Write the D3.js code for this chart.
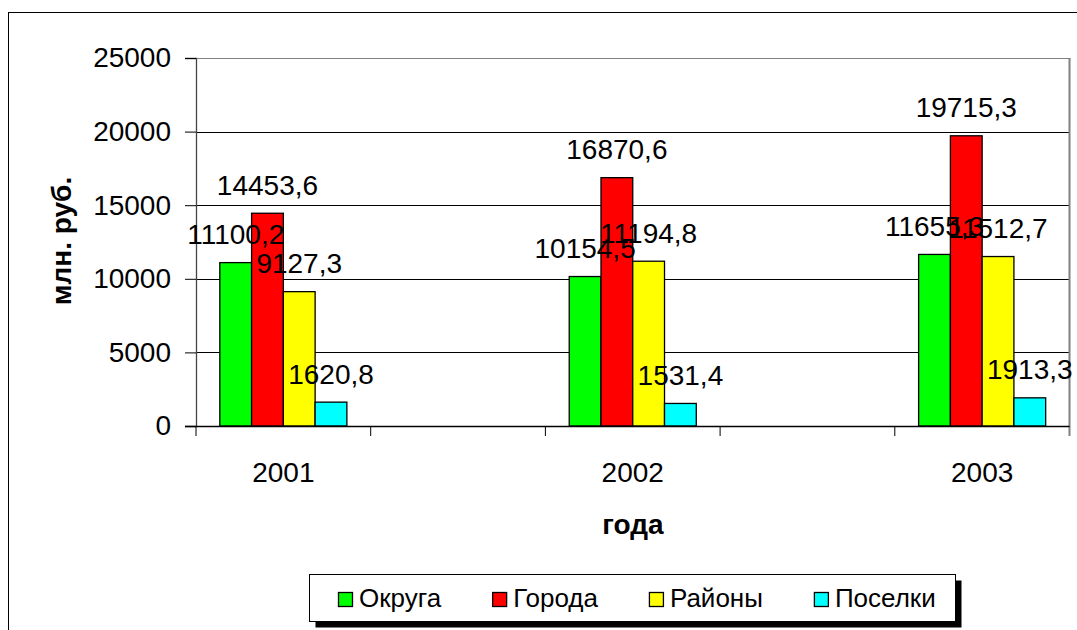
<!DOCTYPE html>
<html>
<head>
<meta charset="utf-8">
<script src="https://cdn.jsdelivr.net/npm/d3@7"></script>
<style>
  html, body { margin: 0; padding: 0; background: #fff; }
  svg { display: block; font-family: "Liberation Sans", Arial, sans-serif; }
</style>
</head>
<body>
<svg id="chart" width="1077" height="630"></svg>
<script>
// ---- data ----
const categories = ["2001", "", "2002", "", "2003"];
const seriesNames = ["Округа", "Города", "Районы", "Поселки"];
const okruga  = [11100.2, null, 10154.5, null, 11655.3];
const goroda  = [14453.6, null, 16870.6, null, 19715.3];
const rayony  = [9127.3,  null, 11194.8, null, 11512.7];
const poselki = [1620.8,  null, 1531.4,  null, 1913.3];
const yTicks = [0, 5000, 10000, 15000, 20000, 25000];
const yTitle = "млн. руб.";
const xTitle = "года";

const seriesValues = [okruga, goroda, rayony, poselki];
const colors = ["#00FF00", "#FF0000", "#FFFF00", "#00FFFF"];

const svg = d3.select("#chart");
const W = 1077, H = 630;
const plot = { left: 196, top: 58, right: 1069.5, bottom: 426 };

svg.append("rect").attr("width", W).attr("height", H).attr("fill", "#fff");

// outer chart border (extends beyond the visible frame)
svg.append("rect").attr("x", 8.5).attr("y", 12.5).attr("width", 1200).attr("height", 800)
  .attr("fill", "none").attr("stroke", "#000").attr("stroke-width", 1);

const y = d3.scaleLinear().domain([0, 25000]).range([plot.bottom, plot.top]);
const x = d3.scaleBand().domain(d3.range(categories.length)).range([plot.left, plot.right]).paddingInner(0).paddingOuter(0);
const bw = x.bandwidth();
const barW = bw / (seriesNames.length + 1.5);
const sub = d3.scaleBand().domain(d3.range(seriesNames.length))
  .range([0.75 * barW, 0.75 * barW + barW * seriesNames.length]);

// gridlines
svg.append("g").selectAll("line").data(yTicks.filter(t => t > 0 && t < 25000)).join("line")
  .attr("x1", plot.left).attr("x2", plot.right)
  .attr("y1", d => Math.round(y(d)) + 0.5).attr("y2", d => Math.round(y(d)) + 0.5)
  .attr("stroke", "#000").attr("stroke-width", 1);

// plot area border (gray)
svg.append("line").attr("x1", plot.left).attr("x2", plot.right + 1)
  .attr("y1", plot.top + 0.5).attr("y2", plot.top + 0.5).attr("stroke", "#808080");
svg.append("line").attr("x1", plot.right).attr("x2", plot.right)
  .attr("y1", plot.top).attr("y2", plot.bottom + 10).attr("stroke", "#808080").attr("stroke-width", 2);

// bars
const gBars = svg.append("g");
seriesValues.forEach((vals, si) => {
  gBars.append("g").selectAll("rect")
    .data(vals.map((v, i) => ({ v, i })).filter(d => d.v != null)).join("rect")
    .attr("x", d => x(d.i) + sub(si))
    .attr("y", d => y(d.v))
    .attr("width", sub.bandwidth())
    .attr("height", d => y(0) - y(d.v))
    .attr("fill", colors[si]).attr("stroke", "#000").attr("stroke-width", 1.3);
});

// y axis
const yAxis = svg.append("g").attr("transform", `translate(${plot.left},0)`)
  .call(d3.axisLeft(y).tickValues(yTicks).tickSize(11).tickPadding(14).tickFormat(d3.format("d")));
yAxis.select(".domain").attr("stroke", "#444").attr("stroke-width", 1.3);
yAxis.selectAll(".tick line").attr("stroke", "#000");
yAxis.selectAll(".tick text").attr("font-size", 28).attr("fill", "#000")
  .attr("font-family", "'Liberation Sans', Arial, sans-serif");

// x axis
const xAxis = svg.append("g").attr("transform", `translate(0,${plot.bottom})`)
  .call(d3.axisBottom(x).tickSize(0).tickPadding(0).tickFormat(i => categories[i]));
xAxis.select(".domain").remove();
xAxis.selectAll(".tick text").attr("font-size", 28).attr("fill", "#000")
  .attr("dy", null).attr("y", 55.5)
  .attr("font-family", "'Liberation Sans', Arial, sans-serif");
svg.append("line").attr("x1", plot.left - 11).attr("x2", plot.right)
  .attr("y1", plot.bottom + 0.5).attr("y2", plot.bottom + 0.5).attr("stroke", "#000").attr("stroke-width", 1.3);
const bounds = d3.range(categories.length).map(i => x(i));
svg.append("g").selectAll("line").data(bounds).join("line")
  .attr("x1", d => d).attr("x2", d => d)
  .attr("y1", plot.bottom).attr("y2", plot.bottom + 10)
  .attr("stroke", "#000").attr("stroke-width", 1);

// data labels
const fmt = v => v.toFixed(1).replace(".", ",");
const gLab = svg.append("g");
seriesValues.forEach((vals, si) => {
  gLab.append("g").selectAll("text")
    .data(vals.map((v, i) => ({ v, i })).filter(d => d.v != null)).join("text")
    .attr("x", d => x(d.i) + sub(si) + sub.bandwidth() / 2)
    .attr("y", d => y(d.v) - 18.5)
    .attr("text-anchor", "middle").attr("font-size", 28).attr("fill", "#000")
    .text(d => fmt(d.v));
});

// axis titles
svg.append("text").attr("transform", `translate(70.5,241) rotate(-90)`)
  .attr("text-anchor", "middle").attr("font-size", 28).attr("font-weight", "bold").text(yTitle);
svg.append("text").attr("x", 633).attr("y", 534)
  .attr("text-anchor", "middle").attr("font-size", 28).attr("font-weight", "bold").text(xTitle);

// legend
const leg = { x: 309.5, y: 574.5, w: 646, h: 47 };
svg.append("rect").attr("x", leg.x + 6).attr("y", leg.y + 6).attr("width", leg.w).attr("height", leg.h).attr("fill", "#000");
svg.append("rect").attr("x", leg.x).attr("y", leg.y).attr("width", leg.w).attr("height", leg.h)
  .attr("fill", "#fff").attr("stroke", "#000").attr("stroke-width", 1);
let cx = 338;
seriesNames.forEach((name, si) => {
  svg.append("rect").attr("x", cx + 0.5).attr("y", 592.5).attr("width", 14).attr("height", 14)
    .attr("fill", colors[si]).attr("stroke", "#000").attr("stroke-width", 1.3);
  const t = svg.append("text").attr("x", cx + 21).attr("y", 607).attr("font-size", 26).attr("fill", "#000").text(name);
  cx += 21 + t.node().getComputedTextLength() + 51;
});
</script>
</body>
</html>
